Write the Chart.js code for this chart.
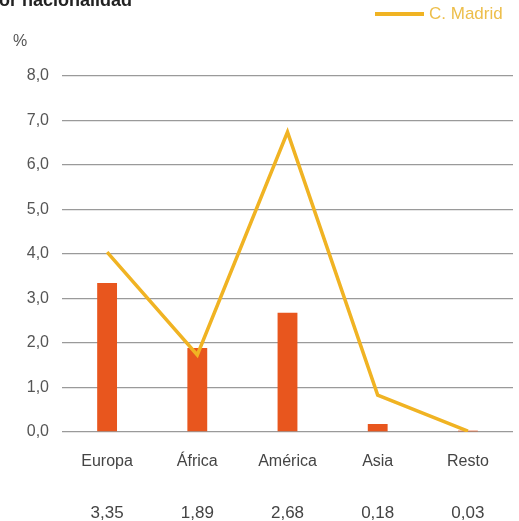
<!DOCTYPE html>
<html>
<head>
<meta charset="utf-8">
<script src="https://cdn.jsdelivr.net/npm/chart.js@4"></script>
<style>
  body { margin: 0; background: #fff; }
  #wrap { width: 519px; height: 521px; position: relative; }
</style>
</head>
<body>
<div id="wrap"><canvas id="nacionalidadChart"></canvas></div>
<script>
const categorias = ['Europa', 'África', 'América', 'Asia', 'Resto'];
const valoresBarras = [3.35, 1.89, 2.68, 0.18, 0.03];
const valoresMadrid = [4.04, 1.73, 6.74, 0.83, 0.02];
const ticksY = [0, 1, 2, 3, 4, 5, 6, 7, 8];

const corBarra = '#E8561E';
const corLinha = '#F0B323';
const fonte = '"Liberation Sans", Arial, sans-serif';

function formatar(v, dec) {
    return v.toFixed(dec).replace('.', ',');
}

const extras = {
    id: 'extras',
    afterDraw(chart) {
        const ctx = chart.ctx;
        const x = chart.scales.x;
        ctx.save();
        // título (cortado no topo)
        ctx.fillStyle = '#222';
        ctx.font = 'bold 18px ' + fonte;
        ctx.textBaseline = 'alphabetic';
        ctx.textAlign = 'left';
        ctx.fillText('Por nacionalidad', -13, 6);
        // unidade
        ctx.fillStyle = '#555';
        ctx.font = '16px ' + fonte;
        ctx.textBaseline = 'middle';
        ctx.fillText('%', 13, 42);
        // legenda
        ctx.strokeStyle = corLinha;
        ctx.lineWidth = 4;
        ctx.beginPath();
        ctx.moveTo(375, 14);
        ctx.lineTo(424, 14);
        ctx.stroke();
        ctx.fillStyle = '#EDBE4A';
        ctx.font = '17px ' + fonte;
        ctx.fillText(chart.data.datasets[1].label, 429, 14);
        // valores por baixo das categorias
        ctx.fillStyle = '#444';
        ctx.font = '17px ' + fonte;
        ctx.textAlign = 'center';
        valoresBarras.forEach((v, i) => {
            ctx.fillText(formatar(v, 2), x.getPixelForValue(i), 513);
        });
        ctx.restore();
    }
};

const ctx = document.getElementById('nacionalidadChart').getContext('2d');
new Chart(ctx, {
    data: {
        labels: categorias,
        datasets: [{
            type: 'bar',
            label: 'Población',
            data: valoresBarras,
            backgroundColor: corBarra,
            barPercentage: 0.22,
            categoryPercentage: 1,
            order: 2
        }, {
            type: 'line',
            label: 'C. Madrid',
            data: valoresMadrid,
            borderColor: corLinha,
            backgroundColor: corLinha,
            borderWidth: 3.5,
            pointRadius: 0,
            tension: 0,
            order: 1
        }]
    },
    options: {
        responsive: true,
        maintainAspectRatio: false,
        animation: false,
        layout: {
            padding: { top: 76, right: 6, left: 0, bottom: 0 }
        },
        plugins: {
            legend: { display: false },
            tooltip: { enabled: false }
        },
        scales: {
            x: {
                grid: { display: false },
                border: { display: false },
                afterFit(axis) {
                    axis.height = 89;
                },
                ticks: {
                    color: '#444',
                    padding: 12,
                    maxRotation: 0,
                    font: { size: 16, family: fonte }
                }
            },
            y: {
                min: 0,
                max: 8,
                afterBuildTicks(axis) {
                    axis.ticks = ticksY.map(v => ({ value: v }));
                },
                afterFit(axis) {
                    axis.width = 62;
                },
                grid: { color: '#9a9a9a', lineWidth: 1.3, drawTicks: false },
                border: { display: false },
                ticks: {
                    color: '#555',
                    padding: 13,
                    font: { size: 16, family: fonte },
                    callback: v => formatar(v, 1)
                }
            }
        }
    },
    plugins: [extras]
});
</script>
</body>
</html>
